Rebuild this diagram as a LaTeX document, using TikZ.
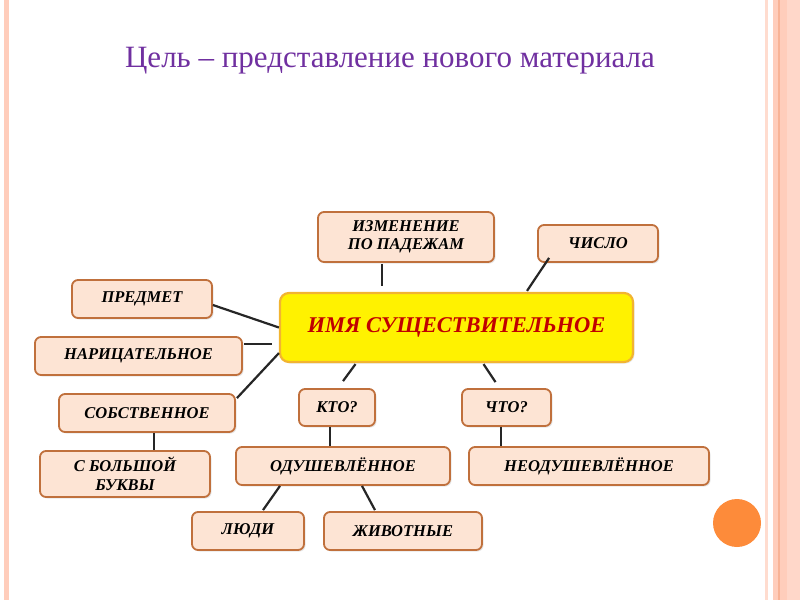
\documentclass[tikz,border=0pt]{standalone}
\usepackage{fontspec}
\setmainfont{Liberation Serif}
\usetikzlibrary{calc,shadows}
\definecolor{boxfill}{HTML}{FDE4D4}
\definecolor{boxline}{HTML}{C0703C}
\definecolor{mainline}{HTML}{F2B431}
\definecolor{maintext}{HTML}{C00000}
\definecolor{titlecol}{HTML}{7030A0}
\definecolor{stripe}{HTML}{FFCDBB}
\definecolor{stripedark}{HTML}{F8B396}
\definecolor{dotcol}{HTML}{FD8B3A}
\begin{document}
\begin{tikzpicture}[x=1pt, y=-1pt,
  box/.style={rectangle, draw=boxline, line width=1.8pt, fill=boxfill,
              rounded corners=6pt, align=center, inner sep=2pt,
              minimum height=38pt,
              font=\fontsize{16.5}{18.5}\selectfont\bfseries\itshape,
              drop shadow={opacity=0.2, shadow xshift=1.5pt, shadow yshift=-1.5pt}},
  mainbox/.style={box, draw=mainline, line width=2.2pt, fill=yellow, rounded corners=9pt,
              text=maintext, font=\fontsize{22.5}{26}\selectfont\bfseries\itshape},
  link/.style={line width=2.2pt, black!85}
]
  \useasboundingbox (0,0) rectangle (800,600);

  % Rand
  \fill[stripe] (4,0) rectangle (9,600);
  \fill[stripe!70] (765,0) rectangle (768,600);
  \fill[stripe] (773,0) rectangle (800,600);
  \fill[stripedark] (778,0) rectangle (780,600);
  \fill[stripe!80] (787,0) rectangle (800,600);
  \fill[dotcol] (737,523) circle (24);

  % Titel
  \node[text=titlecol, font=\fontsize{31}{35}\selectfont] (title) at (390,61)
    {Цель – представление нового материала};

  % Mitte
  \node[mainbox, minimum width=353pt, minimum height=69pt] (main) at (456.5,327.5)
    {ИМЯ СУЩЕСТВИТЕЛЬНОЕ};

  % Kaestchen
  \node[box, minimum width=176pt, minimum height=50pt] (izm) at (406,237)
    {ИЗМЕНЕНИЕ\\ПО ПАДЕЖАМ};
  \node[box, minimum width=120pt, minimum height=37pt] (chislo) at (598,243.5) {ЧИСЛО};
  \node[box, minimum width=140pt] (predmet) at (142,299) {ПРЕДМЕТ};
  \node[box, minimum width=207pt] (narits) at (138.5,356) {НАРИЦАТЕЛЬНОЕ};
  \node[box, minimum width=176pt] (sobst) at (147,413) {СОБСТВЕННОЕ};
  \node[box, minimum width=170pt, minimum height=46pt] (bolsh) at (125,474)
    {С БОЛЬШОЙ\\БУКВЫ};
  \node[box, minimum width=76pt, minimum height=37pt] (kto) at (337,407.5) {КТО?};
  \node[box, minimum width=89pt, minimum height=37pt] (chto) at (506.5,407.5) {ЧТО?};
  \node[box, minimum width=214pt] (odush) at (343,466) {ОДУШЕВЛЁННОЕ};
  \node[box, minimum width=240pt] (neod) at (589,466) {НЕОДУШЕВЛЁННОЕ};
  \node[box, minimum width=112pt] (ludi) at (248,531) {ЛЮДИ};
  \node[box, minimum width=158pt] (zhiv) at (403,531) {ЖИВОТНЫЕ};

  % Linien
  \draw[link] ($(izm.south)+(-24,1)$) -- ($(main.north)+(-74.5,-6)$);
  \draw[link] ($(chislo.south west)+(12,-5)$) -- ($(main.north)+(70.5,-1)$);
  \draw[link] ($(predmet.east)+(0,6)$) -- (main.west);
  \draw[link] ($(narits.east)+(1,-12)$) -- ($(main.west)+(-7,16.5)$);
  \draw[link] ($(sobst.north east)+(1,5)$) -- ($(main.south west)+(0,-10)$);
  \draw[link] ($(sobst.south)+(7,0)$) -- ($(bolsh.north)+(29,0)$);
  \draw[link] ($(main.south)+(-101,1)$) -- ($(kto.north)+(6,-7)$);
  \draw[link] ($(main.south)+(27,1)$) -- ($(chto.north)+(-11,-6)$);
  \draw[link] ($(kto.south)+(-7,0)$) -- ($(odush.north)+(-13,0)$);
  \draw[link] ($(chto.south)+(-5.5,0)$) -- ($(neod.north)+(-88,0)$);
  \draw[link] ($(odush.south)+(-63,0)$) -- ($(ludi.north)+(15,-1)$);
  \draw[link] ($(odush.south)+(19,0)$) -- ($(zhiv.north)+(-28,-1)$);
\end{tikzpicture}
\end{document}
